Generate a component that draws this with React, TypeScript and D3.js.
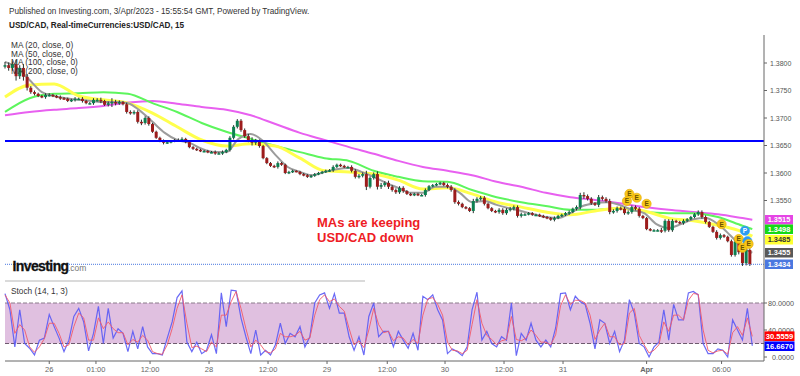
import React from "react";
import * as d3 from "d3";

const closes = [
1.3796,1.3791,1.3798,1.3776,1.3791,1.3775,1.3755,1.3747,1.3744,1.3740,1.3738,1.3742,1.3742,1.3740,1.3738,1.3736,1.3735,1.3731,1.3733,1.3735,
1.3735,1.3731,1.3727,1.3727,1.3733,1.3733,1.3731,1.3724,1.3727,1.3729,1.3727,1.3729,1.3725,1.3711,1.3709,1.3711,1.3693,1.3691,1.3700,1.3689,
1.3675,1.3664,1.3658,1.3655,1.3656,1.3658,1.3660,1.3660,1.3662,1.3656,1.3647,1.3644,1.3642,1.3640,1.3640,1.3638,1.3638,1.3636,1.3636,1.3638,
1.3642,1.3664,1.3684,1.3695,1.3678,1.3667,1.3660,1.3655,1.3658,1.3649,1.3627,1.3618,1.3613,1.3611,1.3618,1.3615,1.3600,1.3602,1.3604,1.3602,
1.3598,1.3596,1.3593,1.3595,1.3598,1.3600,1.3602,1.3604,1.3605,1.3611,1.3615,1.3613,1.3611,1.3611,1.3604,1.3593,1.3595,1.3598,1.3575,1.3591,
1.3598,1.3575,1.3578,1.3582,1.3575,1.3569,1.3565,1.3573,1.3567,1.3562,1.3560,1.3562,1.3560,1.3560,1.3569,1.3576,1.3578,1.3580,1.3582,1.3578,
1.3575,1.3569,1.3547,1.3544,1.3538,1.3536,1.3531,1.3549,1.3553,1.3555,1.3544,1.3536,1.3531,1.3529,1.3533,1.3527,1.3533,1.3535,1.3538,1.3522,
1.3525,1.3525,1.3527,1.3524,1.3524,1.3522,1.3520,1.3518,1.3515,1.3518,1.3522,1.3524,1.3527,1.3529,1.3535,1.3538,1.3560,1.3558,1.3553,1.3545,
1.3542,1.3556,1.3553,1.3549,1.3529,1.3531,1.3536,1.3535,1.3527,1.3529,1.3538,1.3535,1.3522,1.3518,1.3498,1.3496,1.3496,1.3496,1.3495,1.3513,
1.3496,1.3513,1.3511,1.3509,1.3513,1.3516,1.3520,1.3525,1.3529,1.3520,1.3511,1.3502,1.3493,1.3482,1.3487,1.3484,1.3476,1.3451,1.3475,1.3456,
1.3436,1.3460,1.3434];

const wicks = [
6,5,5,8,5,7,5,3,3,2,2,3,3,2,2,3,2,2,2,3,
2,3,2,2,3,3,4,2,3,7,4,3,2,3,3,3,3,4,3,3,
2,2,2,3,2,2,2,3,3,2,2,2,2,2,2,2,2,3,2,3,
2,3,3,3,3,3,4,5,4,3,2,2,2,2,3,2,2,2,2,1,
2,2,2,2,2,2,2,2,2,3,2,2,2,2,3,3,3,3,6,3,
3,5,4,3,4,3,3,3,3,2,2,2,2,2,3,2,2,2,2,2,
3,3,3,3,2,2,2,4,3,3,3,2,2,2,3,3,3,3,3,3,
3,2,2,2,2,2,2,2,2,3,2,2,2,3,2,3,4,5,3,3,
2,4,3,3,4,3,3,3,3,3,3,3,3,2,2,2,2,2,4,3,
3,3,2,2,3,2,2,2,3,3,3,2,2,3,3,2,2,3,3,4,
5,4,3];

const ma20 = [
1.3802,1.3791,1.3769,1.3747,1.3740,1.3736,1.3733,1.3731,1.3729,1.3729,1.3727,1.3713,1.3693,1.3673,1.3660,1.3655,1.3644,1.3638,1.3638,1.3662,
1.3671,1.3658,1.3633,1.3611,1.3602,1.3596,1.3602,1.3607,1.3609,1.3602,1.3593,1.3582,1.3573,1.3564,1.3564,1.3575,1.3575,1.3564,1.3547,1.3549,
1.3542,1.3536,1.3531,1.3525,1.3520,1.3518,1.3527,1.3540,1.3545,1.3547,1.3542,1.3533,1.3527,1.3507,1.3500,1.3507,1.3516,1.3518,1.3507,1.3487,
1.3465,1.3455];

const ma50 = [
1.3738,1.3760,1.3762,1.3740,1.3733,1.3727,1.3709,1.3684,1.3660,1.3649,1.3653,1.3649,1.3627,1.3604,1.3602,1.3598,1.3587,1.3571,1.3573,1.3562,
1.3547,1.3538,1.3529,1.3524,1.3531,1.3536,1.3531,1.3518,1.3513,1.3505,1.3493,1.3485];

const ma100 = [
1.3711,1.3736,1.3744,1.3745,1.3747,1.3744,1.3727,1.3711,1.3691,1.3675,1.3662,1.3649,1.3638,1.3627,1.3622,1.3604,1.3593,1.3585,1.3584,1.3569,
1.3556,1.3547,1.3540,1.3533,1.3533,1.3536,1.3529,1.3527,1.3527,1.3520,1.3504,1.3498];

const ma200 = [
1.3705,1.3711,1.3715,1.3718,1.3722,1.3728,1.3731,1.3726,1.3720,1.3715,1.3705,1.3689,1.3673,1.3660,1.3647,1.3635,1.3622,1.3611,1.3604,1.3596,
1.3584,1.3575,1.3564,1.3556,1.3551,1.3545,1.3538,1.3533,1.3529,1.3525,1.3518,1.3515];

const stochK = [
94,70,15,70,20,13,3,25,28,63,45,28,8,25,60,72,52,9,35,75,20,72,28,42,35,8,38,12,45,15,5,5,3,28,52,88,98,22,8,22,5,10,33,5,95,45,99,98,58,30,5,40,3,10,
3,18,50,20,35,30,45,15,30,80,92,95,72,94,65,65,30,10,30,3,60,80,30,38,38,15,38,25,13,35,10,90,85,92,70,55,5,12,8,2,15,70,96,25,38,20,15,30,25,80,2,35,25,50,25,
15,25,15,43,94,95,70,90,82,78,50,12,55,50,20,38,8,25,85,65,20,15,0,15,22,70,25,78,55,55,95,97,92,20,5,5,12,10,0,55,40,25,72,16.67];

const stochD = [
92,80,35,48,40,15,7,15,27,50,50,35,15,18,45,65,58,25,25,58,42,52,42,36,36,18,26,22,32,25,8,5,4,18,42,72,92,50,14,16,12,8,22,15,62,62,82,97,72,42,15,25,18,8,
6,12,35,30,30,32,38,25,28,62,85,92,82,86,75,68,42,18,24,14,40,72,48,36,38,24,30,28,18,26,20,62,86,88,78,62,22,10,9,5,10,48,85,50,32,26,18,24,26,60,26,24,28,40,32,
22,22,18,33,76,92,78,84,84,80,62,26,40,50,30,30,18,20,65,72,32,18,6,10,18,52,38,62,62,55,84,94,93,40,10,6,9,10,4,36,45,32,58,30.56];

const priceTicks = [1.38, 1.375, 1.37, 1.365, 1.36, 1.355];
const stochTicks = [80, 40, 0];
const timeTicks: [number, string, boolean][] = [
  [36, "26", false], [74, "01:00", false], [118, "12:00", false], [166, "28", false],
  [214, "12:00", false], [262, "29", false], [311, "12:00", false], [358, "30", false],
  [406, "12:00", false], [454, "31", false], [522, "Apr", true], [583, "06:00", false],
];
const maLegend = ["MA (20, close, 0)", "MA (50, close, 0)", "MA (100, close, 0)", "MA (200, close, 0)"];
const earnings: [number, number, string, string][] = [
  [508, 1.3562, "E", "y"], [506, 1.3549, "E", "y"], [514, 1.3555, "E", "y"], [522, 1.3544, "E", "y"],
  [583, 1.3507, "E", "y"], [597, 1.348, "E", "y"], [602, 1.3495, "P", "b"], [604, 1.3476, "",  "b"],
  [600, 1.3464, "E", "y"], [605, 1.3471, "E", "y"],
];
const levelPrice = 1.3658;
const lastPrice = 1.3434;
const priceBoxes: [string, string, string, number][] = [
  ["1.3515", "#e545e5", "#ffffff", 219.5],
  ["1.3498", "#16d916", "#ffffff", 229],
  ["1.3485", "#ffff33", "#333333", 239.5],
  ["1.3455", "#595959", "#ffffff", 252.5],
  ["1.3434", "#4a78e0", "#ffffff", 264],
];
const stochBoxes: [string, string, number][] = [
  ["30.5559", "#ff0000", 336],
  ["16.6670", "#0000ff", 346],
];

const FONT = "'Liberation Sans', Arial, sans-serif";
const W = 800, H = 376;
const right = 764;

export default function App() {
  const x = d3.scaleLinear().domain([0, 608]).range([5, 752.3]);
  const y = d3.scaleLinear().domain([1.38, 1.36]).range([63, 173]);
  const s = d3.scaleLinear().domain([80, 0]).range([303, 357]);

  const maLine = (vals: number[], step: number) =>
    d3.line<number>()
      .x((_, i) => x(Math.min(i * step, 608)))
      .y((d) => y(d))
      .curve(d3.curveMonotoneX)(vals) || "";

  const stLine = (vals: number[]) =>
    d3.line<number>().x((_, i) => x(i * 4)).y((d) => s(d))(vals) || "";

  return (
    <svg width={W} height={H} viewBox={`0 0 ${W} ${H}`}
      style={{ position: "absolute", left: 0, top: 0, background: "#fff", fontFamily: FONT }}>
      <text x={9} y={13.5} fontSize={8.2} fill="#333">Published on Investing.com, 3/Apr/2023 - 15:55:54 GMT, Powered by TradingView.</text>
      <text x={9} y={28} fontSize={8.2} fontWeight="bold" fill="#222">USD/CAD, Real-timeCurrencies:USD/CAD, 15</text>

      {/* MAs */}
      <path d={maLine(ma200, 20)} fill="none" stroke="#e860f0" strokeWidth={2} />
      <path d={maLine(ma100, 20)} fill="none" stroke="#5df55d" strokeWidth={2} />
      <path d={maLine(ma50, 20)} fill="none" stroke="#ffff4d" strokeWidth={3} />
      <path d={maLine(ma20, 10)} fill="none" stroke="#9c9c9c" strokeWidth={2} />

      {/* candles */}
      {closes.map((c, i) => {
        const o = i === 0 ? c : closes[i - 1];
        const cx = x(i * 3);
        const w = (wicks[i] ?? 3) * 0.0001;
        const top = y(Math.max(o, c));
        const bot = y(Math.min(o, c));
        const up = c >= o;
        return (
          <g key={i}>
            <line x1={cx} x2={cx} y1={y(Math.max(o, c) + w)} y2={y(Math.min(o, c) - w)} stroke="#26302b" strokeWidth={1} />
            <rect x={cx - 1.5} y={top} width={3} height={Math.max(bot - top, 1.5)} fill={up ? "#0d7f50" : "#9c1c1c"} />
          </g>
        );
      })}

      <line x1={5} x2={right} y1={y(levelPrice)} y2={y(levelPrice)} stroke="#0000ff" strokeWidth={2} />
      <line x1={5} x2={right} y1={y(lastPrice)} y2={y(lastPrice)} stroke="#4a78e0" strokeWidth={1} strokeDasharray="1 1" />

      {/* event markers */}
      {earnings.map(([b, p, t, kind], i) => (
        <g key={i}>
          <circle cx={x(b)} cy={y(p)} r={4.6} fill={kind === "y" ? "#f7c71a" : "#2b9cf2"} stroke={kind === "y" ? "#e6a900" : "#2b9cf2"} strokeWidth={0.6} />
          <text x={x(b)} y={y(p) + 2.4} fontSize={6.5} fontWeight="bold" textAnchor="middle" fill={kind === "y" ? "#6b5200" : "#fff"}>{t}</text>
        </g>
      ))}

      {maLegend.map((t, i) => (
        <text key={t} x={11} y={48 + i * 8.6} fontSize={8.3} fill="#333">{t}</text>
      ))}

      <text x={317} y={226.5} fontSize={13} fontWeight="bold" fill="#ee1c25">MAs are keeping</text>
      <text x={317} y={241.5} fontSize={13} fontWeight="bold" fill="#ee1c25">USD/CAD down</text>

      {/* logo */}
      <text x={12.5} y={271} fontSize={14} fontWeight="bold" fill="#111" stroke="#111" strokeWidth={0.3} letterSpacing={-0.6}>Investing</text>
      <text x={68} y={271} fontSize={8.5} fill="#777">.com</text>

      {/* separator */}
      <line x1={5} x2={365} y1={281} y2={281} stroke="#b5b5b5" strokeWidth={1.2} />

      {/* stochastic pane */}
      <rect x={5} y={s(80)} width={right - 5} height={s(20) - s(80)} fill="#e0c0e0" />
      <line x1={5} x2={right} y1={s(80)} y2={s(80)} stroke="#8a7a8a" strokeWidth={1} strokeDasharray="4 2" />
      <line x1={5} x2={right} y1={s(20)} y2={s(20)} stroke="#6e5a6e" strokeWidth={1} strokeDasharray="4 2" />
      <path d={stLine(stochK)} fill="none" stroke="#5a5af5" strokeWidth={1.2} opacity={0.9} />
      <path d={stLine(stochD)} fill="none" stroke="#f25a6a" strokeWidth={1} opacity={0.9} />
      <text x={11} y={293.7} fontSize={8.3} fill="#333">Stoch (14, 1, 3)</text>

      {/* axes */}
      <line x1={5} x2={right} y1={361} y2={361} stroke="#666" strokeWidth={1} />
      <line x1={right} x2={right} y1={35} y2={361} stroke="#666" strokeWidth={1} />
      {timeTicks.map(([b, t, bold]) => (
        <g key={b}>
          <line x1={x(b)} x2={x(b)} y1={361} y2={364} stroke="#666" />
          <text x={x(b)} y={372} fontSize={7.5} textAnchor="middle" fontWeight={bold ? "bold" : "normal"} fill="#666">{t}</text>
        </g>
      ))}
      {priceTicks.map((p) => (
        <g key={p}>
          <line x1={right} x2={right + 3} y1={y(p)} y2={y(p)} stroke="#666" />
          <text x={770} y={y(p) + 2.6} fontSize={7} fill="#555">{p.toFixed(4)}</text>
        </g>
      ))}
      {stochTicks.map((v) => (
        <g key={v}>
          <line x1={right} x2={right + 3} y1={s(v)} y2={s(v)} stroke="#666" />
          <text x={794} y={s(v) + 2.6} fontSize={7.2} textAnchor="end" fill="#555">{v.toFixed(4)}</text>
        </g>
      ))}
      {priceBoxes.map(([t, bg, fg, cy]) => (
        <g key={t}>
          <rect x={765} y={cy - 4.5} width={28} height={9.5} fill={bg} />
          <text x={779} y={cy + 2.7} fontSize={7.4} fontWeight="bold" textAnchor="middle" fill={fg}>{t}</text>
        </g>
      ))}
      {stochBoxes.map(([t, bg, cy]) => (
        <g key={t}>
          <rect x={764.5} y={cy - 4.6} width={30} height={9.6} fill={bg} />
          <text x={779.5} y={cy + 2.7} fontSize={7.6} fontWeight="bold" textAnchor="middle" fill="#fff">{t}</text>
        </g>
      ))}
    </svg>
  );
}
